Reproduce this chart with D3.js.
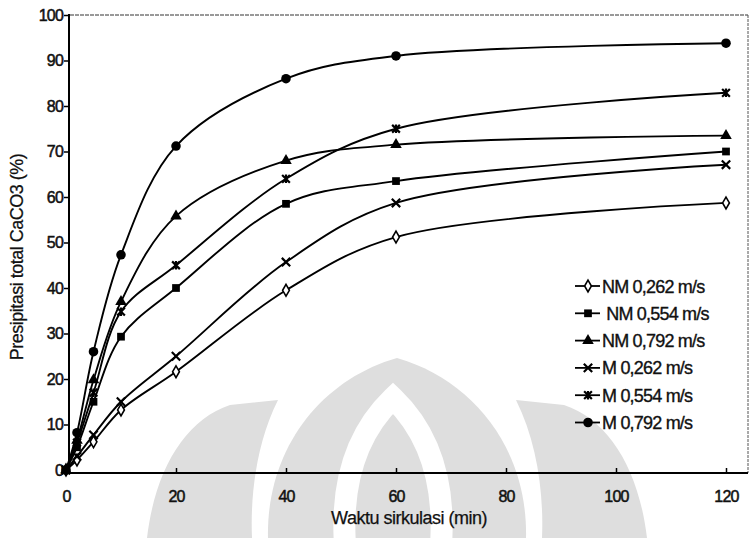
<!DOCTYPE html>
<html>
<head>
<meta charset="utf-8">
<script src="https://cdn.jsdelivr.net/npm/d3@7"></script>
<style>
  body { margin: 0; background: #fff; }
  text { font-family: "Liberation Sans", Arial, sans-serif; fill: #111; }
</style>
</head>
<body id="viz">
<script>
// Chart data
var xValues = [0, 2, 5, 10, 20, 40, 60, 120]
var seriesNames = ["NM 0,262 m/s", " NM 0,554 m/s", "NM 0,792 m/s", "M 0,262 m/s", "M 0,554 m/s", "M 0,792 m/s"]
var nm262 = [0, 2.2, 6.2, 13.2, 21.6, 39.5, 51.2, 58.7]
var nm554 = [0, 5, 15, 29.3, 40, 58.5, 63.5, 70]
var nm792 = [0, 6.5, 19.8, 37, 55.8, 68, 71.5, 73.5]
var m262 = [0, 3, 7.7, 15, 25, 45.7, 58.7, 67.1]
var m554 = [0, 6, 17, 34.8, 45, 64, 75, 82.9]
var m792 = [0, 8.2, 26, 47.3, 71.2, 86, 91, 93.8]
var xTicks = [0, 20, 40, 60, 80, 100, 120]
var yTicks = [0, 10, 20, 30, 40, 50, 60, 70, 80, 90, 100]

// Size consts
var svg_width = 749
var svg_height = 538
var line_width = 1.9

var svg = d3.select("body#viz")
  .append("svg")
  .attr("width", svg_width)
  .attr("height", svg_height)

// faint watermark behind the chart
var wm = svg.append("g").attr("fill", "#dedede")
wm.append("path").attr("d", "M268,538 C266,450 320,380 397,358 C474,380 528,450 526,538 Z")
wm.append("path").attr("d", "M147,538 C155,470 185,420 230,405 L278,400 C258,440 250,490 252,538 Z")
wm.append("path").attr("d", "M647,538 C639,470 609,420 564,405 L516,400 C536,440 544,490 542,538 Z")
wm.append("path")
  .attr("d", "M345,545 C340,470 365,425 393,398 C421,425 446,470 441,545")
  .attr("fill", "none").attr("stroke", "#fff").attr("stroke-width", 22)

// scales
var x = d3.scaleLinear().domain([0, 120]).range([66, 726])
var y = d3.scaleLinear().domain([0, 100]).range([470, 15])

// frame: dashed top, thin right
svg.append("line")
  .attr("x1", 70).attr("x2", 748).attr("y1", 15).attr("y2", 15)
  .attr("stroke", "#333").attr("stroke-width", 1).attr("stroke-dasharray", "4,1")
svg.append("line")
  .attr("x1", 748).attr("x2", 748).attr("y1", 15).attr("y2", 473)
  .attr("stroke", "#555").attr("stroke-width", 1).attr("stroke-dasharray", "3,1")

// y axis
var yAxis = svg.append("g")
  .attr("transform", "translate(69,0)")
  .call(d3.axisLeft(y).tickValues(yTicks).tickSize(5).tickPadding(1))
yAxis.select(".domain").remove()
yAxis.selectAll(".tick line").attr("stroke", "#000").attr("stroke-width", 1.5)
yAxis.selectAll("text")
  .style("font-size", "16px").style("letter-spacing", "-0.8px")
  .attr("fill", "#111").attr("stroke", "#111").attr("stroke-width", 0.5)
svg.append("line")
  .attr("x1", 69).attr("x2", 69).attr("y1", 14).attr("y2", 473)
  .attr("stroke", "#000").attr("stroke-width", 2)

// x axis
var xAxis = svg.append("g")
  .attr("transform", "translate(0,473)")
  .call(d3.axisBottom(x).tickValues(xTicks).tickSize(-5).tickPadding(18))
xAxis.select(".domain").remove()
xAxis.selectAll(".tick line").attr("stroke", "#000").attr("stroke-width", 1.5)
xAxis.selectAll("text")
  .style("font-size", "16px").style("letter-spacing", "-0.8px")
  .attr("fill", "#111").attr("stroke", "#111").attr("stroke-width", 0.5)
svg.append("line")
  .attr("x1", 64).attr("x2", 748).attr("y1", 473).attr("y2", 473)
  .attr("stroke", "#000").attr("stroke-width", 2)

// axis titles
svg.append("text")
  .attr("x", 409).attr("y", 524)
  .attr("text-anchor", "middle")
  .style("font-size", "18px").style("letter-spacing", "-0.5px")
  .attr("stroke", "#111").attr("stroke-width", 0.25)
  .text("Waktu sirkulasi (min)")
svg.append("text")
  .attr("transform", "translate(23,257) rotate(-90)")
  .attr("text-anchor", "middle")
  .style("font-size", "18px").style("letter-spacing", "-0.5px")
  .attr("stroke", "#111").attr("stroke-width", 0.25)
  .text("Presipitasi total CaCO3 (%)")

// custom symbols for x and asterisk markers
var symX = {
  draw: function(ctx, size) {
    var r = Math.sqrt(size) / 2
    ctx.moveTo(-r, -r); ctx.lineTo(r, r)
    ctx.moveTo(-r, r); ctx.lineTo(r, -r)
  }
}
var symStar = {
  draw: function(ctx, size) {
    var r = Math.sqrt(size) / 2
    ctx.moveTo(-r, -r); ctx.lineTo(r, r)
    ctx.moveTo(-r, r); ctx.lineTo(r, -r)
    ctx.moveTo(0, -r * 1.1); ctx.lineTo(0, r * 1.1)
  }
}

var markers = [
  { type: d3.symbolDiamond, size: 40, fill: "#fff", stroke: 1.6 },
  { type: d3.symbolSquare, size: 60, fill: "#000", stroke: 0 },
  { type: d3.symbolTriangle, size: 58, fill: "#000", stroke: 0 },
  { type: symX, size: 70, fill: "none", stroke: 2.2 },
  { type: symStar, size: 60, fill: "none", stroke: 2.2 },
  { type: d3.symbolCircle, size: 72, fill: "#000", stroke: 0 }
]

var allSeries = [nm262, nm554, nm792, m262, m554, m792]

var line = d3.line()
  .x(function(d) { return x(d[0]) })
  .y(function(d) { return y(d[1]) })
  .curve(d3.curveCatmullRom.alpha(0.5))

function drawMarker(g, m) {
  g.append("path")
    .attr("d", d3.symbol().type(m.type).size(m.size))
    .attr("fill", m.fill)
    .attr("stroke", "#000")
    .attr("stroke-width", m.stroke)
}

// series lines
allSeries.forEach(function(vals, i) {
  var pts = xValues.map(function(xv, j) { return [xv, vals[j]] })
  svg.append("path")
    .attr("d", line(pts))
    .attr("fill", "none")
    .attr("stroke", "#000")
    .attr("stroke-width", line_width)
})

// series markers on top
allSeries.forEach(function(vals, i) {
  xValues.forEach(function(xv, j) {
    var g = svg.append("g")
      .attr("transform", "translate(" + x(xv) + "," + y(vals[j]) + ")")
    drawMarker(g, markers[i])
  })
})

// legend
var legend = svg.append("g").attr("transform", "translate(575,286)")
seriesNames.forEach(function(name, i) {
  var row = legend.append("g").attr("transform", "translate(0," + (i * 27.3) + ")")
  row.append("line")
    .attr("x1", 0).attr("x2", 25)
    .attr("stroke", "#000").attr("stroke-width", 1.8)
  drawMarker(row.append("g").attr("transform", "translate(13,0)"), markers[i])
  row.append("text")
    .attr("x", 27).attr("y", 6.5)
    .style("font-size", "18px").style("letter-spacing", "-0.8px")
    .style("white-space", "pre")
    .attr("stroke", "#111").attr("stroke-width", 0.35)
    .text(name)
})
</script>
</body>
</html>
